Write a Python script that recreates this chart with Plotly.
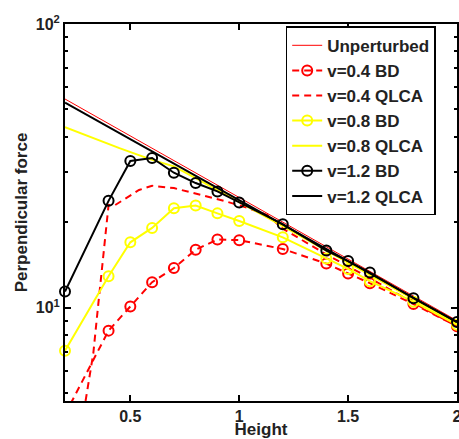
import plotly.graph_objects as go

# Height grid of the BD simulations
bd_height = [0.2, 0.4, 0.5, 0.6, 0.7, 0.8, 0.9, 1.0, 1.2, 1.4, 1.5, 1.6, 1.8, 2.0]
bd_v04 = [4.2, 8.3, 10.1, 12.3, 13.8, 16.0, 17.4, 17.3, 16.1, 14.3, 13.2, 12.2, 10.3, 8.6]
bd_v08 = [7.05, 12.9, 17.0, 19.1, 22.4, 22.9, 21.5, 20.2, 17.7, 14.9, 13.7, 12.4, 10.5, 8.7]
bd_v12 = [11.4, 23.8, 32.9, 33.7, 29.9, 27.5, 25.7, 23.5, 19.7, 15.9, 14.6, 13.3, 10.8, 8.9]

# Unperturbed force
unp_height = [0.2, 0.6, 1.0, 1.4, 1.8, 2.0]
unp_force = [54.4, 36.5, 24.5, 16.4, 11.0, 9.0]

# QLCA curves
qlca04_height = [0.25, 0.3, 0.33, 0.35, 0.37, 0.4, 0.43, 0.48, 0.54, 0.6, 0.7, 0.83, 0.93,
                 1.03, 1.13, 1.2, 1.4, 1.6, 1.8, 2.0]
qlca04_force = [2.9, 4.93, 6.9, 9.8, 14.0, 23.0, 23.0, 24.3, 26.0, 26.9, 26.4, 24.9, 23.8,
                22.6, 21.2, 19.0, 15.4, 12.7, 10.4, 8.6]
qlca08_height = [0.2, 0.3, 0.45, 0.6, 0.7, 0.8, 1.0, 1.2, 1.4, 1.6, 1.8, 2.0]
qlca08_force = [43.3, 40.4, 36.5, 33.2, 31.5, 28.6, 23.6, 19.4, 15.9, 13.05, 10.7, 8.8]
qlca12_height = [0.2, 0.4, 0.6, 0.8, 1.0, 1.2, 1.4, 1.6, 1.8, 2.0]
qlca12_force = [52.8, 43.3, 35.5, 29.1, 23.9, 19.6, 16.1, 13.2, 10.8, 8.9]

RED = 'rgb(255,0,0)'
YELLOW = 'rgb(255,255,0)'
BLACK = 'rgb(0,0,0)'
DASH = '7px,5px'
FONT = 'Liberation Sans, Arial, sans-serif'

fig = go.Figure()


def add(x, y, name, color, width=2, dash='solid', markers=False, clip=False):
    fig.add_trace(go.Scatter(
        x=x, y=y, name=name, legendgroup=name,
        mode='lines+markers' if markers else 'lines',
        line=dict(color=color, width=width, dash=dash),
        marker=dict(symbol='circle-open', size=10, color=color, line=dict(width=2, color=color)),
        cliponaxis=clip,
    ))


add(unp_height, unp_force, 'Unperturbed', RED, width=1)
# first point of this one lies below the axis, so keep it clipped
add(bd_height, bd_v04, 'v=0.4 BD', RED, dash=DASH, markers=True, clip=True)
add(qlca04_height, qlca04_force, 'v=0.4 QLCA', RED, dash=DASH)
add(bd_height, bd_v08, 'v=0.8 BD', YELLOW, markers=True)
add(qlca08_height, qlca08_force, 'v=0.8 QLCA', YELLOW)
add(bd_height, bd_v12, 'v=1.2 BD', BLACK, markers=True)
add(qlca12_height, qlca12_force, 'v=1.2 QLCA', BLACK)

axis_font = dict(family=FONT, size=17, color='#222', weight='bold')
tick_font = dict(family=FONT, size=16, color='#222', weight='bold')

fig.update_layout(
    width=459, height=439,
    margin=dict(l=65, r=2, t=24, b=38),
    paper_bgcolor='white', plot_bgcolor='white',
    font=axis_font,
    showlegend=True,
    legend=dict(
        x=0.563, y=0.994, xanchor='left', yanchor='top',
        bgcolor='white', bordercolor='black', borderwidth=1.5,
        font=dict(family=FONT, size=17, color='#222', weight='bold'),
        traceorder='grouped', tracegroupgap=0,
    ),
    xaxis=dict(
        range=[0.2, 2], tickvals=[0.5, 1, 1.5, 2], ticktext=['0.5', '1', '1.5', '2'],
        tickfont=tick_font, ticklabeloverflow='allow', automargin=False,
        ticks='inside', ticklen=6, tickwidth=1.5, tickcolor='black',
        showline=True, linecolor='black', linewidth=2, mirror='ticks',
        showgrid=False, zeroline=False,
        title=dict(text='Height', standoff=2, font=axis_font),
    ),
    yaxis=dict(
        type='log', range=[0.671, 2], automargin=False,
        tickvals=[10, 100], ticktext=['10<sup>1</sup>', '10<sup>2</sup>'],
        tickfont=tick_font,
        ticks='inside', ticklen=6, tickwidth=1.5, tickcolor='black',
        minor=dict(tickvals=[5, 6, 7, 8, 9, 20, 30, 40, 50, 60, 70, 80, 90],
                   ticks='inside', ticklen=3, tickcolor='black', showgrid=False),
        showline=True, linecolor='black', linewidth=2, mirror='ticks',
        showgrid=False, zeroline=False,
        title=dict(text='Perpendicular force', standoff=4, font=axis_font),
    ),
)

# drop the default page margin so the figure fills the window like the original
fig.write_html("out.html", config={'displayModeBar': False},
               post_script="document.body.style.margin='0';"
                           "document.documentElement.style.overflow='hidden';")
